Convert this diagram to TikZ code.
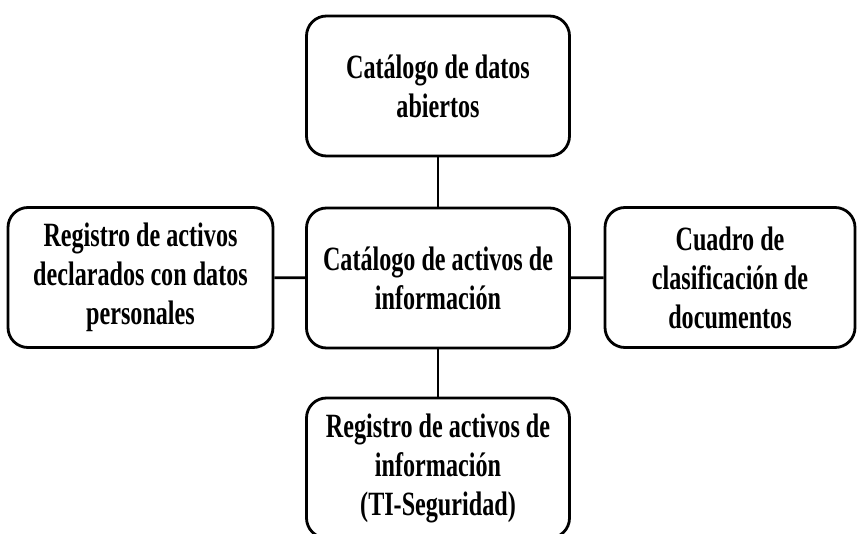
\documentclass[tikz,border=0pt]{standalone}
\usepackage{fontspec}
\setmainfont{Liberation Serif}[FakeStretch=0.71]
\usetikzlibrary{positioning}
\tikzset{font=\bfseries\fontsize{34}{39}\selectfont}
\tikzset{caja/.style={draw, line width=2.8pt, rounded corners=20pt,
  minimum width=263pt, minimum height=140pt, align=center, inner sep=0pt}}
\tikzset{enlace/.style={line width=2.6pt}}

\begin{document}
\begin{tikzpicture}[x=1pt,y=-1pt]
  \clip (0,0) rectangle (858,534);
  \fill[white] (0,0) rectangle (858,534);

  \node[caja] (catalogo) at (438,278) {Catálogo de activos de\\información};
  \node[caja] (abiertos) at (438,86) {Catálogo de datos\\abiertos};
  \node[caja, minimum width=265pt] (personales) at (140.5,277.5)
       {Registro de activos\\declarados con datos\\personales};
  \node[caja, minimum width=250pt] (cuadro) at (730,277.5)
       {Cuadro de\\clasificación de\\documentos};
  \node[caja] (seguridad) at (438,468)
       {Registro de activos de\\información\\(TI-Seguridad)};

  \draw[enlace] (abiertos)--(catalogo);
  \draw[enlace] (personales)--(catalogo);
  \draw[enlace] (catalogo)--(cuadro);
  \draw[enlace] (catalogo)--(seguridad);
\end{tikzpicture}
\end{document}
